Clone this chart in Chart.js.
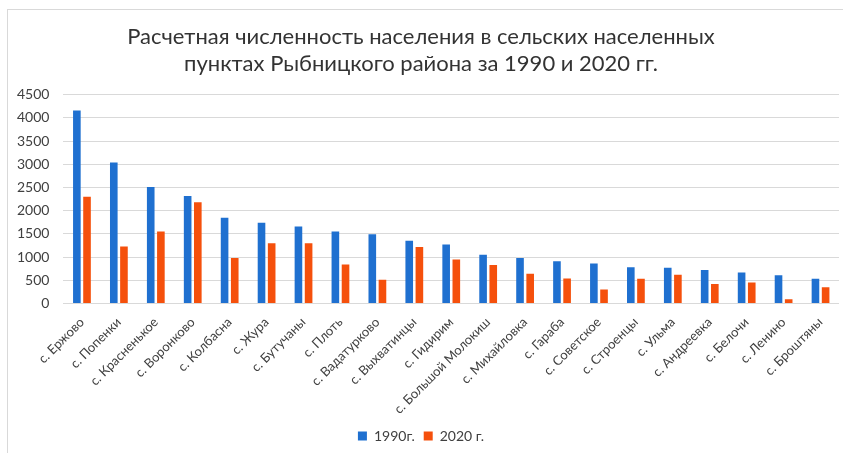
<!DOCTYPE html>
<html>
<head>
<meta charset="utf-8">
<script src="https://cdn.jsdelivr.net/npm/chart.js@4"></script>
<style>
  html, body { margin: 0; padding: 0; background: #fff; }
  #frame {
    position: absolute; left: 7px; top: 9px; width: 840px; height: 450px;
    border: 1px solid #d9d9d9; box-sizing: border-box;
  }
  #wrap { position: absolute; left: 0; top: 0; width: 843px; height: 453px; }
</style>
</head>
<body>
<div id="frame"></div>
<div id="wrap"><canvas id="popChart"></canvas></div>
<script>
// Villages and estimated population
const villages = [
  "с. Ержово", "с. Попенки", "с. Красненькое", "с. Воронково", "с. Колбасна",
  "с. Жура", "с. Бутучаны", "с. Плоть", "с. Вадатурково", "с. Выхватинцы",
  "с. Гидирим", "с. Большой Молокиш", "с. Михайловка", "с. Гараба", "с. Советское",
  "с. Строенцы", "с. Ульма", "с. Андреевка", "с. Белочи", "с. Ленино", "с. Броштяны"
];
const pop1990 = [4160, 3040, 2510, 2320, 1850, 1740, 1660, 1550, 1490, 1350,
                 1270, 1050, 980, 910, 860, 780, 770, 720, 670, 610, 530];
const pop2020 = [2300, 1230, 1550, 2180, 980, 1300, 1300, 840, 510, 1220,
                 950, 830, 640, 540, 300, 530, 620, 420, 450, 90, 350];
const yTicks = [0, 500, 1000, 1500, 2000, 2500, 3000, 3500, 4000, 4500];

document.addEventListener("DOMContentLoaded", function () {
  const ctx = document.getElementById("popChart").getContext("2d");
  new Chart(ctx, {
    type: "bar",
    data: {
      labels: villages,
      datasets: [
        {
          label: "1990г.",
          data: pop1990,
          backgroundColor: "#1f70d0",
          barPercentage: 0.75,
          categoryPercentage: 0.55,
        },
        {
          label: "2020 г.",
          data: pop2020,
          backgroundColor: "#f5500c",
          barPercentage: 0.75,
          categoryPercentage: 0.55,
        },
      ],
    },
    options: {
      responsive: true,
      maintainAspectRatio: false,
      animation: false,
      layout: { padding: { left: 3, right: 4, top: 18, bottom: 0 } },
      plugins: {
        title: {
          display: true,
          text: [
            "Расчетная численность населения в сельских населенных",
            "пунктах Рыбницкого района за 1990 и 2020 гг.",
          ],
          color: "#333333",
          font: { family: "Lato", size: 22, weight: "normal" },
          lineHeight: 1.15,
          padding: { top: 6, bottom: 18 },
        },
        legend: {
          position: "bottom",
          labels: {
            color: "#404040",
            font: { family: "Lato", size: 14 },
            boxWidth: 9,
            boxHeight: 9,
            padding: 9,
          },
        },
        tooltip: { enabled: false },
      },
      scales: {
        y: {
          min: 0,
          max: 4500,
          afterBuildTicks: function (axis) {
            axis.ticks = yTicks.map(function (v) { return { value: v }; });
          },
          border: { display: false },
          grid: { color: "#d9d9d9", drawTicks: false },
          ticks: {
            color: "#404040",
            font: { family: "Lato", size: 14 },
            padding: 14,
            callback: function (value) {
              return String(value);
            },
          },
        },
        x: {
          border: { display: false },
          grid: { display: false },
          ticks: {
            color: "#404040",
            font: { family: "Lato", size: 13 },
            minRotation: 45,
            maxRotation: 45,
            autoSkip: false,
          },
        },
      },
    },
  });
});
</script>
</body>
</html>
